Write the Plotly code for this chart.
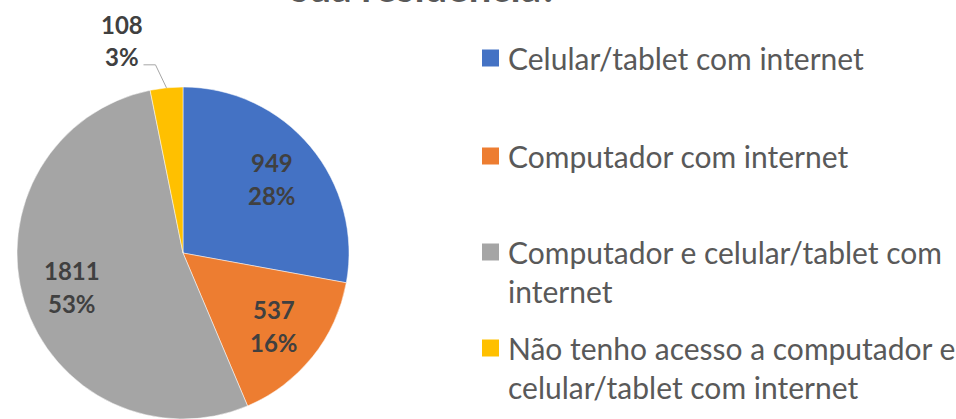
import math
import textwrap
import plotly.graph_objects as go

# ---- data ----
labels = ["Celular/tablet com internet",
          "Computador com internet",
          "Computador e celular/tablet com internet",
          "Não tenho acesso a computador e celular/tablet com internet"]
values = [949, 537, 1811, 108]
colors = ["#4472C4", "#ED7D31", "#A5A5A5", "#FFC000"]
title_visible = "sua residência?"

W, H = 956, 419
FONT = "Lato"
LABEL_COLOR = "#404040"

def px(x):
    return x / W

def py(y):
    return (H - y) / H

# pie geometry (pixels)
cx, cy, R = 183, 253, 166

total = sum(values)
val_txt = [f"{v}" for v in values]
pct_txt = [f"{round(100 * v / total)}%" for v in values]

fig = go.Figure(go.Pie(
    labels=labels, values=values, sort=False, direction="clockwise", rotation=0,
    marker=dict(colors=colors, line=dict(color="white", width=0.5)),
    textinfo="none",
    showlegend=False, hoverinfo="label+value+percent",
    domain=dict(x=[px(cx - R), px(cx + R)], y=[py(cy + R), py(cy - R)]),
))

annotations = []
shapes = []
lab_font = dict(family=FONT, size=24, color=LABEL_COLOR, weight="bold")

cum = 0
for i, v in enumerate(values):
    mid = 2 * math.pi * (cum + v / 2) / total  # clockwise from top
    cum += v
    if i < 3:
        rr = 0.7 * R
        lx, ly = cx + rr * math.sin(mid), cy - rr * math.cos(mid)
        annotations.append(dict(xref="paper", yref="paper", x=px(lx), y=py(ly - 16.5),
                                xanchor="center", yanchor="middle", showarrow=False,
                                text=val_txt[i], font=lab_font))
        annotations.append(dict(xref="paper", yref="paper", x=px(lx), y=py(ly + 16.5),
                                xanchor="center", yanchor="middle", showarrow=False,
                                text=pct_txt[i], font=lab_font))
    else:
        # outside label with leader line
        ex, ey = cx + R * math.sin(mid), cy - R * math.cos(mid)
        elbow_x, elbow_y = ex - 11, ey - 23
        end_x = elbow_x - 12
        shapes.append(dict(type="path", xref="paper", yref="paper",
                           path=f"M {px(ex)} {py(ey)} L {px(elbow_x)} {py(elbow_y)} L {px(end_x)} {py(elbow_y)}",
                           line=dict(color="#A6A6A6", width=1)))
        annotations.append(dict(xref="paper", yref="paper", x=px(end_x - 21), y=py(elbow_y - 40),
                                xanchor="center", yanchor="middle", showarrow=False,
                                text=val_txt[i], font=lab_font))
        annotations.append(dict(xref="paper", yref="paper", x=px(end_x - 21), y=py(elbow_y - 8),
                                xanchor="center", yanchor="middle", showarrow=False,
                                text=pct_txt[i], font=lab_font))

# title (partly cut at top)
annotations.append(dict(xref="paper", yref="paper", x=px(424), y=py(-13),
                        xanchor="center", yanchor="middle", showarrow=False,
                        text=title_visible,
                        font=dict(family=FONT, size=40, color="#595959", weight="bold")))

# legend
leg_y = [58, 156, 252, 348]
line_h = 38
for lab, col, yy in zip(labels, colors, leg_y):
    wrapped = textwrap.wrap(lab, 31)
    n = len(wrapped)
    shapes.append(dict(type="rect", xref="paper", yref="paper",
                       x0=px(482), x1=px(499), y0=py(yy - 8.5), y1=py(yy + 8.5),
                       fillcolor=col, line=dict(width=0)))
    center = yy + (n - 1) * line_h / 2
    annotations.append(dict(xref="paper", yref="paper", x=px(506), y=py(center),
                            xanchor="left", yanchor="middle", showarrow=False, align="left",
                            text="<br>".join(wrapped),
                            font=dict(family=FONT, size=30, color="#595959")))

fig.update_layout(width=W, height=H, margin=dict(l=0, r=0, t=0, b=0),
                  paper_bgcolor="white", plot_bgcolor="white",
                  annotations=annotations, shapes=shapes)
fig.write_html("out.html", config={"displayModeBar": False},
               post_script="document.body.style.margin='0';document.body.style.overflow='hidden';")
